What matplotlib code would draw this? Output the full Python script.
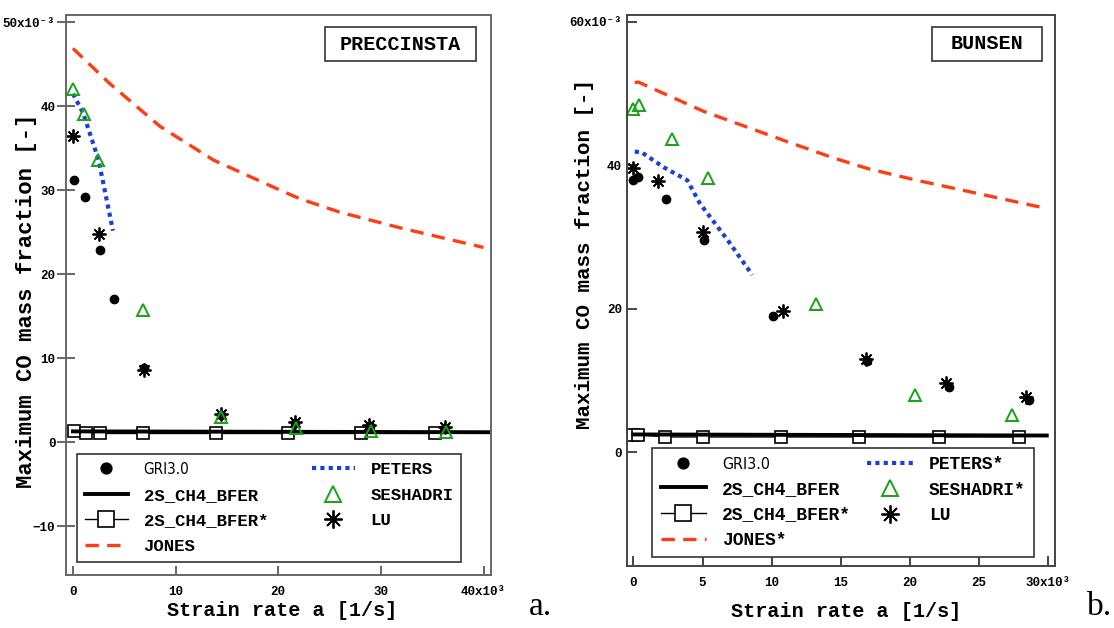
import matplotlib.pyplot as plt
from matplotlib.patches import Rectangle

plt.rcParams['font.family'] = ['Liberation Mono', 'DejaVu Sans Mono']

RED = '#ff3c14'
BLUE = '#1c3fd6'
GREEN = '#16a316'

# strain rate in 1e3 1/s, CO mass fraction in 1e-3
# --- a. PRECCINSTA ---
a_gri_x = [0.06, 1.2, 2.6, 4.05, 6.95, 14.4, 21.6, 28.9, 36.2]
a_gri_y = [31.2, 29.2, 22.9, 17.1, 8.9, 3.3, 2.3, 2.0, 1.7]
a_bfer_x = [0, 40.6]
a_bfer_y = [1.3, 1.2]
a_bfers_x = [0.06, 1.3, 2.6, 6.8, 13.9, 21.0, 28.1, 35.3]
a_bfers_y = [1.35, 1.05, 1.05, 1.05, 1.05, 1.05, 1.05, 1.05]
a_jones_x = [0, 3.6, 8.5, 13.7, 19.5, 22.1, 26, 32, 40]
a_jones_y = [46.9, 42.7, 37.6, 33.6, 30.4, 29.0, 27.4, 25.5, 23.2]
a_peters_x = [0, 1.0, 2.5, 3.9]
a_peters_y = [41.5, 39.2, 33.6, 25.2]
a_sesh_x = [0, 1.1, 2.4, 6.85, 14.4, 21.7, 29.0, 36.3]
a_sesh_y = [42.1, 39.1, 33.6, 15.7, 3.0, 1.7, 1.4, 1.2]
a_lu_x = [0, 2.5, 6.95, 14.4, 21.6, 28.85, 36.2]
a_lu_y = [36.5, 24.8, 8.6, 3.4, 2.4, 2.1, 1.8]
a_labels = ['GRI3.0', '2S_CH4_BFER', '2S_CH4_BFER*', 'JONES', 'PETERS', 'SESHADRI', 'LU']
a_xticks = [0, 10, 20, 30, 40]
a_xticklabels = ['0', '10', '20', '30', '40x10³']
a_yticks = [-10, 0, 10, 20, 30, 40, 50]
a_yticklabels = ['−10', '0', '10', '20', '30', '40', '50x10⁻³']

# --- b. BUNSEN ---
b_gri_x = [0, 0.36, 2.34, 5.14, 10.1, 16.9, 22.8, 28.65]
b_gri_y = [38.0, 38.4, 35.3, 29.5, 19.0, 12.7, 9.1, 7.2]
b_bfer_x = [0, 29.9]
b_bfer_y = [2.45, 2.3]
b_bfers_x = [0, 0.36, 2.3, 5.0, 10.7, 16.3, 22.1, 27.9]
b_bfers_y = [2.4, 2.4, 2.1, 2.1, 2.1, 2.1, 2.1, 2.1]
b_jones_x = [0.1, 0.35, 5.1, 11.1, 14.5, 17.0, 20.5, 23.6, 29.8]
b_jones_y = [51.5, 51.6, 47.5, 43.3, 41.0, 39.5, 37.9, 36.6, 34.0]
b_peters_x = [0.1, 0.6, 2.2, 3.9, 4.8, 6.8, 8.6]
b_peters_y = [41.9, 41.8, 39.7, 37.9, 34.7, 29.6, 24.7]
b_sesh_x = [0, 0.43, 2.8, 5.4, 13.2, 20.4, 27.4]
b_sesh_y = [47.8, 48.4, 43.7, 38.2, 20.7, 8.0, 5.1]
b_lu_x = [0, 1.77, 5.07, 10.85, 16.8, 22.6, 28.4]
b_lu_y = [39.6, 37.8, 30.7, 19.6, 13.0, 9.6, 7.7]
b_labels = ['GRI3.0', '2S_CH4_BFER', '2S_CH4_BFER*', 'JONES*', 'PETERS*', 'SESHADRI*', 'LU']
b_xticks = [0, 5, 10, 15, 20, 25, 30]
b_xticklabels = ['0', '5', '10', '15', '20', '25', '30x10³']
b_yticks = [0, 20, 40, 60]
b_yticklabels = ['0', '20', '40', '60x10⁻³']

fig = plt.figure(figsize=(11.14, 6.28), dpi=100)
axa = fig.add_axes([0.059, 0.0844, 0.3815, 0.892])
axb = fig.add_axes([0.5626, 0.0987, 0.3845, 0.878])


def draw(ax, gx, gy, bx, by, sx, sy, jx, jy, px, py, ex, ey, lx, ly):
    h_jones, = ax.plot(jx, jy, color=RED, lw=2.4, dashes=(4, 2.5))
    h_peters, = ax.plot(px, py, color=BLUE, lw=3, dashes=(1, 1))
    h_bfers, = ax.plot(sx, sy, color='black', lw=1, marker='s', ms=8.5,
                       mfc='white', mec='black', mew=1.2)
    h_bfer, = ax.plot(bx, by, color='black', lw=2.8)
    h_gri, = ax.plot(gx, gy, ls='none', marker='o', ms=6, color='black')
    h_lu, = ax.plot(lx, ly, ls='none', marker=(8, 2, 0), ms=10, mew=1.3,
                    color='black')
    h_sesh, = ax.plot(ex, ey, ls='none', marker='^', ms=8.5, mfc='none',
                      mec=GREEN, mew=1.4)
    return [h_gri, h_bfer, h_bfers, h_jones, h_peters, h_sesh, h_lu]


ha = draw(axa, a_gri_x, a_gri_y, a_bfer_x, a_bfer_y, a_bfers_x, a_bfers_y,
          a_jones_x, a_jones_y, a_peters_x, a_peters_y, a_sesh_x, a_sesh_y,
          a_lu_x, a_lu_y)
hb = draw(axb, b_gri_x, b_gri_y, b_bfer_x, b_bfer_y, b_bfers_x, b_bfers_y,
          b_jones_x, b_jones_y, b_peters_x, b_peters_y, b_sesh_x, b_sesh_y,
          b_lu_x, b_lu_y)

# axes ranges / ticks
axa.set_xlim(-0.7, 40.7)
axa.set_ylim(-15.8, 50.9)
axb.set_xlim(-0.48, 30.5)
axb.set_ylim(-15.9, 61.0)

for ax, xt, xl, yt, yl, spc in [(axa, a_xticks, a_xticklabels, a_yticks, a_yticklabels, '#666666'),
                                (axb, b_xticks, b_xticklabels, b_yticks, b_yticklabels, '#444444')]:
    ax.set_xticks(xt)
    ax.set_xticklabels(xl, fontsize=9, fontweight='bold')
    ax.set_yticks(yt)
    ax.set_yticklabels(yl, fontsize=9, fontweight='bold')
    for s in ax.spines.values():
        s.set_color(spc)
        s.set_linewidth(1.4)

axa.tick_params(axis='y', direction='inout', length=13, width=1.4, color='#666666', pad=1)
axa.tick_params(axis='x', direction='in', length=6.5, width=1.4, color='#666666', pad=8)
axb.tick_params(axis='y', direction='in', length=7, width=1.4, color='#444444', pad=3.5)
axb.tick_params(axis='x', direction='in', length=7, width=1.4, color='#444444', pad=8)

# axis labels
axa.set_ylabel('Maximum CO mass fraction [-]', fontsize=16, fontweight='bold')
axa.yaxis.set_label_coords(-0.093, 0.49)
axa.set_xlabel('Strain rate a [1/s]', fontsize=14.5, fontweight='bold')
axa.xaxis.set_label_coords(0.51, -0.0625)
axb.set_ylabel('Maximum CO mass fraction [-]', fontsize=15, fontweight='bold')
axb.yaxis.set_label_coords(-0.0997, 0.566)
axb.set_xlabel('Strain rate a [1/s]', fontsize=14.5, fontweight='bold')
axb.xaxis.set_label_coords(0.512, -0.083)
for ax in (axa, axb):
    ax.xaxis.label.set_va('center')
    ax.yaxis.label.set_va('center')

# legends
for ax, hs, labs, anchor, fs, lsp in [(axa, ha, a_labels, (0.026, 0.024, 0.905, 0.194), 12.5, 0.6),
                                      (axb, hb, b_labels, (0.060, 0.016, 0.890, 0.193), 13, 0.48)]:
    leg = ax.legend(hs, labs, ncol=2, loc='lower left', bbox_to_anchor=anchor,
                    mode='expand', fancybox=False, framealpha=1,
                    edgecolor='#333333', borderpad=0.45, labelspacing=lsp,
                    handlelength=2.5, handletextpad=0.9, markerscale=1.3,
                    borderaxespad=0,
                    prop={'family': ['Liberation Mono', 'DejaVu Sans Mono'],
                          'weight': 'bold', 'size': fs})
    leg.get_frame().set_linewidth(1.2)
    t0 = leg.get_texts()[0]
    t0.set_family('DejaVu Sans')
    t0.set_stretch('condensed')
    t0.set_weight('normal')
    t0.set_fontsize(fs - 1.5)

# title boxes
for ax, name, x0, x1, y0, y1 in [(axa, 'PRECCINSTA', 0.610, 0.9654, 0.918, 0.9775),
                                 (axb, 'BUNSEN', 0.713, 0.970, 0.916, 0.978)]:
    ax.add_patch(Rectangle((x0, y0), x1 - x0, y1 - y0, transform=ax.transAxes,
                           fill=False, edgecolor='#333333', lw=1.2))
    ax.text((x0 + x1) / 2, (y0 + y1) / 2, name, transform=ax.transAxes,
            ha='center', va='center', fontsize=14.5, fontweight='bold')

fig.text(0.485, 0.034, 'a.', fontsize=24, family='Liberation Serif',
         ha='center', va='center')
fig.text(0.987, 0.034, 'b.', fontsize=24, family='Liberation Serif',
         ha='center', va='center')

fig.savefig('out.png', dpi=100)
